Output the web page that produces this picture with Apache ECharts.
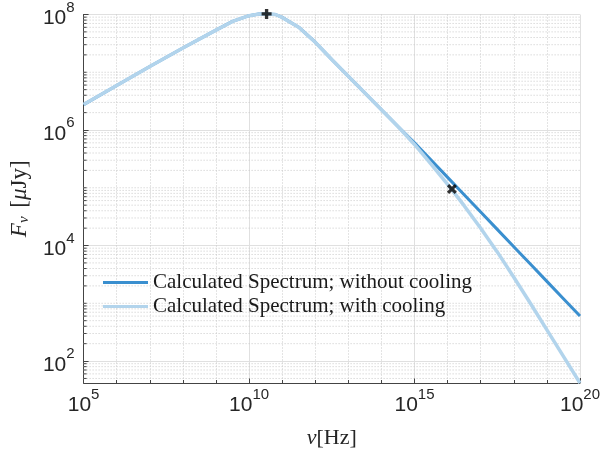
<!DOCTYPE html>
<html>
<head>
<meta charset="utf-8">
<script src="https://cdn.jsdelivr.net/npm/echarts@6/dist/echarts.min.js"></script>
<style>html,body{margin:0;padding:0;background:#fff}#c{width:603px;height:461px}</style>
</head>
<body>
<div id="c"></div>
<script>
// log10 of frequency [Hz]
const logNu = [5, 6, 7, 8, 9, 9.5, 10, 10.3, 10.5, 10.8, 11, 11.5, 12, 12.5, 13, 13.5, 14, 14.5, 15, 15.5, 16, 16.5, 17, 17.5, 18, 18.5, 19, 19.5, 20];
// log10 of flux density [uJy]
const logFluxNoCooling = [6.44, 6.77, 7.10, 7.42, 7.73, 7.88, 7.98, 8.01, 8.01, 8.00, 7.95, 7.78, 7.52, 7.22, 6.93, 6.64, 6.35, 6.06, 5.78, 5.48, 5.18, 4.88, 4.58, 4.28, 3.98, 3.68, 3.38, 3.08, 2.78];
const logFluxCooling   = [6.44, 6.77, 7.10, 7.42, 7.73, 7.88, 7.98, 8.01, 8.01, 8.00, 7.95, 7.78, 7.52, 7.22, 6.93, 6.64, 6.35, 6.06, 5.75, 5.41, 5.06, 4.69, 4.30, 3.89, 3.45, 3.00, 2.54, 2.08, 1.62];
const peakPoint = [10.53, 8.01];
const breakPoint = [16.13, 4.98];
const seriesNames = ['Calculated Spectrum; without cooling', 'Calculated Spectrum; with cooling'];

const X_MIN = 5, X_MAX = 20, Y_MIN = 1.62, Y_MAX = 8;
// minor y grid positions (log10 of 2..9 x 10^n and odd decades)
const yMinor = [];
for (let d = 1; d <= 7; d++) {
  for (let k = 1; k <= 9; k++) {
    const v = d + Math.log10(k);
    if (k === 1 && d % 2 === 0) continue;
    if (v > Y_MIN && v < Y_MAX) yMinor.push([X_MIN, v]);
  }
}

const DARK = '#3a8fcf', LIGHT = '#b2d4ec';
const AX = '#444444', TXT = '#262626';
const richTick = {
  b: {fontSize: 21, fontFamily: 'Liberation Sans', color: TXT, lineHeight: 29, verticalAlign: 'bottom'},
  s: {fontSize: 15, fontFamily: 'Liberation Sans', color: TXT, lineHeight: 29, verticalAlign: 'top'}
};
const tickFmt = v => '{b|10}{s|' + Math.round(v) + '}';

const chart = echarts.init(document.getElementById('c'), null, {renderer: 'canvas'});
chart.setOption({
  animation: false,
  backgroundColor: '#fff',
  grid: {left: 81, right: 21, top: 8, bottom: 78, containLabel: false},
  legend: {
    data: seriesNames.map(n => ({name: n, icon: 'rect'})),
    orient: 'vertical', left: 103, top: 272,
    itemWidth: 45, itemHeight: 3, itemGap: 3,
    textStyle: {fontFamily: 'Liberation Serif', fontSize: 21, color: '#1a1a1a', lineHeight: 20},
    backgroundColor: 'transparent', borderWidth: 0, padding: 0
  },
  xAxis: {
    type: 'value', min: X_MIN, max: X_MAX, interval: 5,
    axisLine: {show: true, onZero: false, lineStyle: {color: AX, width: 1}},
    axisTick: {show: true, inside: true, length: 5, lineStyle: {color: AX}},
    minorTick: {show: true, splitNumber: 5, length: 3, lineStyle: {color: AX}},
    splitLine: {show: true, lineStyle: {color: '#e0e0e0', width: 1}},
    minorSplitLine: {show: true, lineStyle: {color: '#c8c8c8', width: 1, type: [1, 2]}},
    axisLabel: {formatter: tickFmt, rich: richTick, margin: 4},
    name: '{i|ν}{r|[Hz]}', nameLocation: 'middle', nameGap: 44,
    nameTextStyle: {rich: {
      i: {fontFamily: 'Liberation Serif', fontStyle: 'italic', fontSize: 22, color: TXT},
      r: {fontFamily: 'Liberation Serif', fontSize: 22, color: TXT}
    }}
  },
  yAxis: {
    type: 'value', min: Y_MIN, max: Y_MAX, splitNumber: 3,
    axisLine: {show: true, onZero: false, lineStyle: {color: AX, width: 1}},
    axisTick: {show: true, inside: true, length: 5, lineStyle: {color: AX}},
    splitLine: {show: true, lineStyle: {color: '#e0e0e0', width: 1}},
    axisLabel: {formatter: tickFmt, rich: richTick, margin: 9, showMinLabel: false},
    name: '{i|F}{sub|ν}{r| [}{i|μ}{r|Jy]}', nameLocation: 'middle', nameGap: 42, nameRotate: 90,
    nameTextStyle: {rich: {
      i: {fontFamily: 'Liberation Serif', fontStyle: 'italic', fontSize: 23, color: TXT},
      sub: {fontFamily: 'Liberation Serif', fontStyle: 'italic', fontSize: 15, color: TXT, padding: [10, 3, 0, 0]},
      r: {fontFamily: 'Liberation Serif', fontSize: 23, color: TXT}
    }}
  },
  series: [
    {
      type: 'custom', name: 'minorGrid', silent: true, z: 1,
      data: yMinor,
      renderItem: function (params, api) {
        const v = api.value(1);
        const p1 = api.coord([X_MIN, v]);
        const p2 = api.coord([X_MAX, v]);
        return {type: 'group', children: [
          {type: 'line', shape: {x1: p1[0], y1: p1[1], x2: p2[0], y2: p2[1]},
           style: {stroke: '#c8c8c8', lineWidth: 1, lineDash: [1, 2]}},
          {type: 'line', shape: {x1: p1[0], y1: p1[1], x2: p1[0] + 3, y2: p1[1]},
           style: {stroke: AX, lineWidth: 1}}
        ]};
      }
    },
    {
      type: 'line', name: seriesNames[0], color: DARK, z: 3,
      data: logNu.map((x, i) => [x, logFluxNoCooling[i]]),
      showSymbol: false, symbol: 'none', clip: false,
      lineStyle: {color: DARK, width: 3}
    },
    {
      type: 'line', name: seriesNames[1], color: LIGHT, z: 4,
      data: logNu.map((x, i) => [x, logFluxCooling[i]]),
      showSymbol: false, symbol: 'none', clip: false,
      lineStyle: {color: LIGHT, width: 3.5}
    },
    {
      type: 'scatter', name: 'peak', z: 5, clip: false,
      symbol: 'path://M3,0H6V3H9V6H6V9H3V6H0V3H3Z', symbolSize: 10,
      itemStyle: {color: '#000'},
      data: [peakPoint]
    },
    {
      type: 'scatter', name: 'break', z: 5, clip: false,
      symbol: 'path://M0,2L2,0L4.5,2.5L7,0L9,2L6.5,4.5L9,7L7,9L4.5,6.5L2,9L0,7L2.5,4.5Z', symbolSize: 10,
      itemStyle: {color: '#000'},
      data: [breakPoint]
    }
  ]
});
</script>
</body>
</html>
